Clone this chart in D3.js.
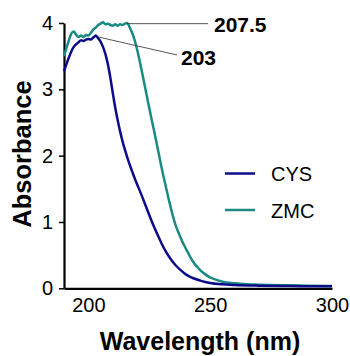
<!DOCTYPE html>
<html><head><meta charset="utf-8">
<script src="https://cdn.jsdelivr.net/npm/d3@7"></script>
<style>
body{margin:0;background:#fff;}
text{font-family:"Liberation Sans",Arial,sans-serif;}
</style></head>
<body><svg id="c" width="350" height="356"></svg>
<script>
const cysWl = [190,191,192,193,194,195,196,197,198,199,200,201,202,203,204,205,206,207,208,209,210,211,212,213,214,215,216,217,218,219,220,222,224,226,228,230,232,234,236,238,240,242,244,246,248,250,255,260,270,280,290,300];
const cysAbs = [3.27,3.38,3.48,3.57,3.64,3.68,3.71,3.74,3.73,3.75,3.76,3.75,3.78,3.81,3.77,3.72,3.64,3.53,3.38,3.18,2.95,2.73,2.54,2.37,2.22,2.09,1.97,1.86,1.76,1.66,1.57,1.39,1.20,1.01,0.84,0.68,0.54,0.43,0.34,0.27,0.21,0.17,0.14,0.115,0.095,0.08,0.06,0.05,0.04,0.035,0.03,0.03];
const zmcWl = [190,191,192,193,194,195,196,197,198,199,200,201,202,203,204,205,206,207,208,209,210,211,212,213,214,215,216,217,218,219,220,221,222,223,224,225,226,227,228,229,230,231,232,233,234,235,236,237,238,239,240,241,242,243,244,245,246,248,250,252,255,260,265,270,280,290,300];
const zmcAbs = [3.50,3.62,3.74,3.84,3.87,3.82,3.79,3.81,3.79,3.82,3.81,3.85,3.90,3.93,3.97,3.99,4.01,3.98,3.99,3.97,3.96,3.98,3.96,3.98,3.97,3.99,4.00,3.93,3.85,3.74,3.60,3.44,3.26,3.08,2.90,2.72,2.54,2.37,2.19,2.01,1.83,1.66,1.50,1.34,1.19,1.05,0.93,0.84,0.75,0.67,0.60,0.53,0.46,0.40,0.35,0.31,0.27,0.21,0.165,0.135,0.10,0.075,0.06,0.055,0.045,0.04,0.035];
const xTicks = [200,250,300];
const yTicks = [0,1,2,3,4];
const seriesNames = ["CYS","ZMC"];
const seriesColors = ["#0c0c8a","#1a8a82"];
const peakLabels = ["207.5","203"];

const svg = d3.select("#c");
const x = d3.scaleLinear().domain([190,300]).range([64,332]);
const y = d3.scaleLinear().domain([0,4]).range([288.3,23]);

const xAxis = svg.append("g").attr("transform","translate(0,288.3)")
  .call(d3.axisBottom(x).tickValues(xTicks).tickSize(0).tickPadding(10).tickSizeOuter(0));
const yAxis = svg.append("g").attr("transform","translate(64,0)")
  .call(d3.axisLeft(y).tickValues(yTicks).tickFormat(d3.format("d")).tickSize(5).tickPadding(6).tickSizeOuter(0));
[xAxis,yAxis].forEach(g=>{
  g.select(".domain").attr("stroke","#000").attr("stroke-width",2.2);
  g.selectAll(".tick line").attr("stroke","#000").attr("stroke-width",1.5);
  g.selectAll(".tick text").attr("font-size",20).attr("fill","#000").attr("font-family","Liberation Sans, Arial, sans-serif");
});

const line = d3.line().x(d=>x(d[0])).y(d=>y(d[1])).curve(d3.curveMonotoneX);
const cysData = cysWl.map((w,i)=>[w,cysAbs[i]]);
const zmcData = zmcWl.map((w,i)=>[w,zmcAbs[i]]);
svg.append("path").datum(zmcData).attr("d",line).attr("fill","none").attr("stroke",seriesColors[1]).attr("stroke-width",2.5).attr("stroke-linejoin","round");
svg.append("path").datum(cysData).attr("d",line).attr("fill","none").attr("stroke",seriesColors[0]).attr("stroke-width",2.5).attr("stroke-linejoin","round");

// leader lines
svg.append("line").attr("x1",x(215.5)).attr("y1",y(3.99)).attr("x2",208).attr("y2",y(3.99)).attr("stroke","#444").attr("stroke-width",0.9);
svg.append("line").attr("x1",x(204)).attr("y1",y(3.79)).attr("x2",177).attr("y2",55).attr("stroke","#444").attr("stroke-width",0.9);
svg.append("text").attr("x",214).attr("y",31.5).attr("font-size",21).attr("font-weight","bold").text(peakLabels[0]);
svg.append("text").attr("x",181).attr("y",65).attr("font-size",21).attr("font-weight","bold").text(peakLabels[1]);

// legend
seriesNames.forEach((n,i)=>{
  const ly = 173.5 + i*36.5;
  svg.append("line").attr("x1",225).attr("x2",255).attr("y1",ly).attr("y2",ly).attr("stroke",seriesColors[i]).attr("stroke-width",2.5);
  svg.append("text").attr("x",271).attr("y",ly+7.5).attr("font-size",20).text(n);
});

// axis titles
svg.append("text").attr("x",200).attr("y",350).attr("text-anchor","middle").attr("font-size",25).attr("font-weight","bold").text("Wavelength (nm)");
svg.append("text").attr("transform","translate(31,154) rotate(-90)").attr("text-anchor","middle").attr("font-size",25.5).attr("font-weight","bold").text("Absorbance");
</script></body></html>
